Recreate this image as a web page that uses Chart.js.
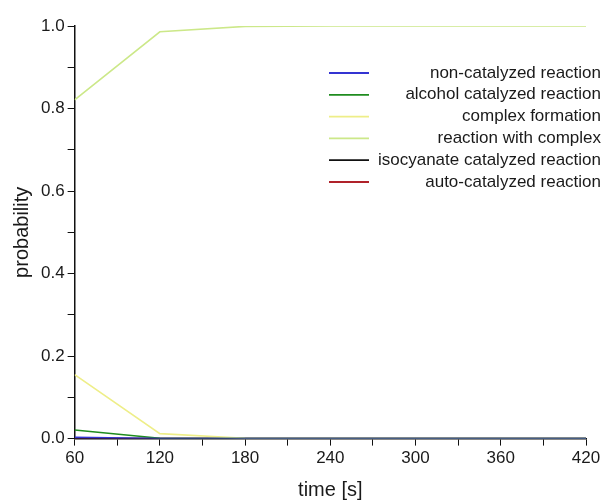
<!DOCTYPE html>
<html lang="en">
<head>
    <meta charset="UTF-8">
    <title>Reaction probability</title>
    <script src="https://cdn.jsdelivr.net/npm/chart.js@4"></script>
    <style>
        body { margin: 0; background: #fff; }
        #wrap { width: 607px; height: 504px; }
    </style>
</head>
<body>
    <div id="wrap"><canvas id="probChart" width="607" height="504"></canvas></div>
    <script>
        // time points [s]
        const times = [60, 120, 180, 240, 300, 360, 420];

        const nonCatalyzed = [0.003, 0.0, 0.0, 0.0, 0.0, 0.0, 0.0];
        const alcoholCatalyzed = [0.021, 0.001, 0.0, 0.0, 0.0, 0.0, 0.0];
        const complexFormation = [0.155, 0.012, 0.001, 0.0, 0.0, 0.0, 0.0];
        const reactionWithComplex = [0.821, 0.986, 0.999, 1.0, 1.0, 1.0, 1.0];
        const isocyanateCatalyzed = [0.0, 0.0, 0.0, 0.0, 0.0, 0.0, 0.0];
        const autoCatalyzed = [0.0, 0.0, 0.0, 0.0, 0.0, 0.0, 0.0];

        const seriesLabels = ['non-catalyzed reaction', 'alcohol catalyzed reaction', 'complex formation',
                              'reaction with complex', 'isocyanate catalyzed reaction', 'auto-catalyzed reaction'];
        const seriesValues = [nonCatalyzed, alcoholCatalyzed, complexFormation,
                              reactionWithComplex, isocyanateCatalyzed, autoCatalyzed];
        const seriesColors = ['#3434d2', '#1f8c1f', '#eeee88', '#cce889', '#111111', '#b0222a'];

        const FONT = '"Liberation Sans", Arial, sans-serif';

        // legend drawn by hand: line left, text right-aligned
        const rightLegend = {
            id: 'rightLegend',
            afterDraw(chart) {
                const c = chart.ctx;
                c.save();
                c.font = '17px ' + FONT;
                c.textAlign = 'right';
                c.textBaseline = 'middle';
                chart.data.datasets.forEach((ds, i) => {
                    const y = 73 + i * 21.8;
                    c.strokeStyle = ds.borderColor;
                    c.lineWidth = 1.8;
                    c.beginPath();
                    c.moveTo(329, y);
                    c.lineTo(369, y);
                    c.stroke();
                    c.fillStyle = '#1a1a1a';
                    c.fillText(ds.label, 601, y);
                });
                c.restore();
            }
        };

        const datasets = seriesLabels.map((name, i) => ({
            label: name,
            data: times.map((t, j) => ({ x: t, y: seriesValues[i][j] })),
            borderColor: seriesColors[i],
            backgroundColor: seriesColors[i],
            borderWidth: 1.6,
            pointRadius: 0,
            tension: 0
        }));

        const ctx = document.getElementById('probChart').getContext('2d');
        new Chart(ctx, {
            type: 'line',
            data: { datasets: datasets },
            plugins: [rightLegend],
            options: {
                responsive: false,
                animation: false,
                layout: { padding: { left: 10, right: 21, top: 26, bottom: 2 } },
                plugins: {
                    legend: { display: false },
                    tooltip: { enabled: false }
                },
                scales: {
                    x: {
                        type: 'linear',
                        min: 60,
                        max: 420,
                        border: { display: true, color: '#111', width: 1.5 },
                        grid: { drawOnChartArea: false, drawTicks: true, tickLength: 7, color: '#111' },
                        ticks: {
                            stepSize: 30,
                            color: '#1a1a1a',
                            font: { family: FONT, size: 17 },
                            padding: 3,
                            maxRotation: 0,
                            autoSkip: false,
                            callback: v => (v % 60 === 0 ? String(v) : '')
                        },
                        title: {
                            display: true,
                            text: 'time [s]',
                            color: '#1a1a1a',
                            font: { family: FONT, size: 20 },
                            padding: { top: 6, bottom: 0 }
                        }
                    },
                    y: {
                        min: 0,
                        max: 1,
                        border: { display: true, color: '#111', width: 1.5 },
                        grid: { drawOnChartArea: false, drawTicks: true, tickLength: 7, color: '#111' },
                        ticks: {
                            stepSize: 0.1,
                            color: '#1a1a1a',
                            font: { family: FONT, size: 17 },
                            padding: 3,
                            autoSkip: false,
                            callback: v => (Math.round(v * 10) % 2 === 0 ? v.toFixed(1) : '')
                        },
                        title: {
                            display: true,
                            text: 'probability',
                            color: '#1a1a1a',
                            font: { family: FONT, size: 20 },
                            padding: { top: 0, bottom: 4 }
                        }
                    }
                }
            }
        });
    </script>
</body>
</html>
